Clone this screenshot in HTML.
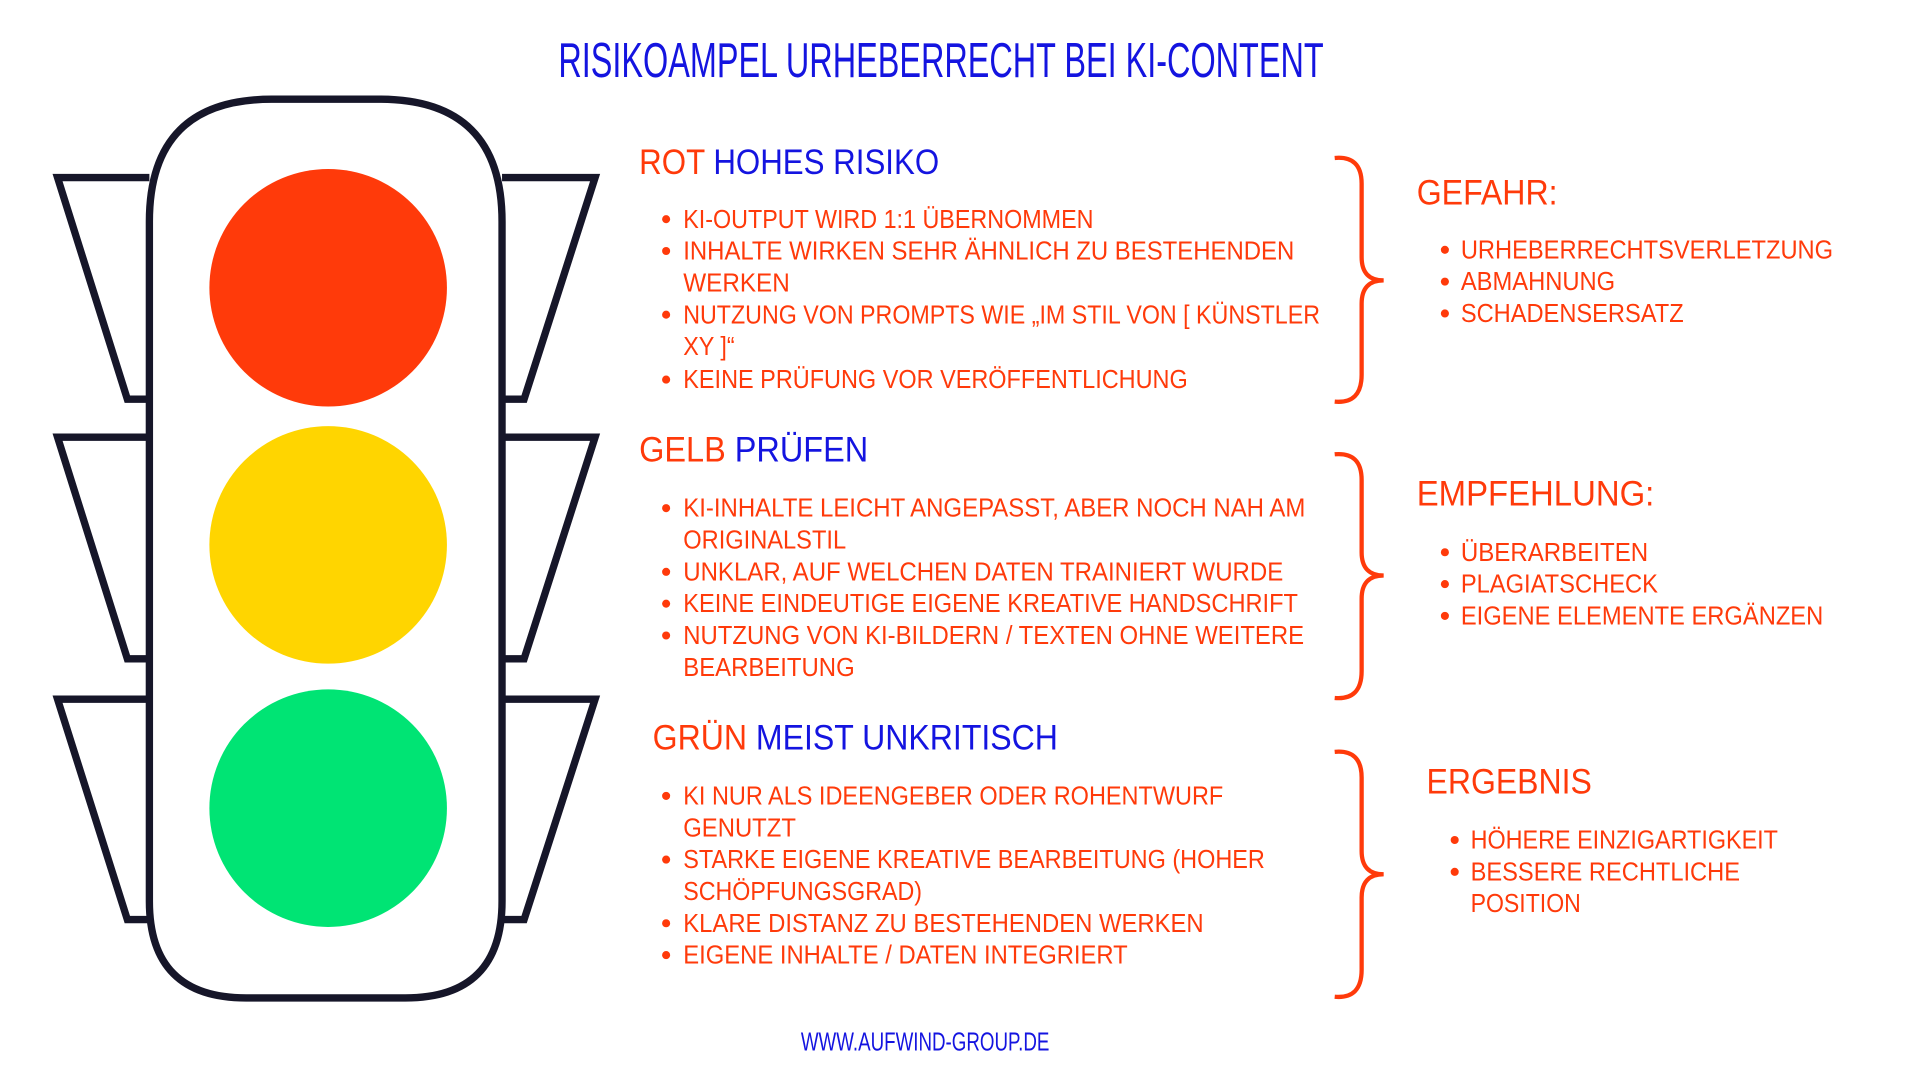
<!DOCTYPE html>
<html><head><meta charset="utf-8"><style>html,body{margin:0;padding:0;background:#fff;}svg{display:block}</style></head>
<body>
<svg width="1920" height="1080" viewBox="0 0 1568 882" preserveAspectRatio="none" xmlns="http://www.w3.org/2000/svg" font-family="Liberation Sans, sans-serif">
<rect width="1568" height="882" fill="#fff"/>
<g fill="#fff" stroke="#161629" stroke-width="6" stroke-linejoin="miter">
<polyline points="122,145 47,145 104,326 122,326"/>
<polyline points="122,357 47,357 104,538 122,538"/>
<polyline points="122,571 47,571 104,751 122,751"/>
<polyline points="410,145 486,145 428,326 410,326"/>
<polyline points="410,357 486,357 428,538 410,538"/>
<polyline points="410,571 486,571 428,751 410,751"/>
<path d="M222,81 L310,81 Q410,81 410,181 L410,736 Q410,815 331,815 L201,815 Q122,815 122,736 L122,181 Q122,81 222,81 Z"/>
</g>
<circle cx="268" cy="235" r="97" fill="#ff3a0a"/>
<circle cx="268" cy="445" r="97" fill="#ffd500"/>
<circle cx="268" cy="660" r="97" fill="#00e474"/>
<g fill="none" stroke="#ff3a0a" stroke-width="3.5">
<path d="M1090,129 Q1112,127 1112,150 L1112,210 Q1112,229 1130,229 Q1112,229 1112,248 L1112,306 Q1112,330 1090,328"/>
<path d="M1090,371 Q1112,369 1112,392 L1112,451 Q1112,470 1130,470 Q1112,470 1112,489 L1112,548 Q1112,572 1090,570"/>
<path d="M1090,614 Q1112,612 1112,635 L1112,695 Q1112,714 1130,714 Q1112,714 1112,733 L1112,792 Q1112,816 1090,814"/>
</g>
<text x="456" y="63" font-size="40" fill="#1414e0" textLength="625" lengthAdjust="spacingAndGlyphs">RISIKOAMPEL URHEBERRECHT BEI KI-CONTENT</text>
<text x="654" y="858" font-size="21" fill="#1414e0" textLength="203" lengthAdjust="spacingAndGlyphs">WWW.AUFWIND-GROUP.DE</text>
<g font-size="29">
<text x="522" y="142" textLength="245" lengthAdjust="spacingAndGlyphs"><tspan fill="#ff3a0a">ROT </tspan><tspan fill="#1414e0">HOHES RISIKO</tspan></text>
<text x="522" y="377" textLength="187" lengthAdjust="spacingAndGlyphs"><tspan fill="#ff3a0a">GELB </tspan><tspan fill="#1414e0">PRÜFEN</tspan></text>
<text x="533" y="612" textLength="331" lengthAdjust="spacingAndGlyphs"><tspan fill="#ff3a0a">GRÜN </tspan><tspan fill="#1414e0">MEIST UNKRITISCH</tspan></text>
<g fill="#ff3a0a">
<text x="1157" y="167" textLength="115" lengthAdjust="spacingAndGlyphs">GEFAHR:</text>
<text x="1157" y="413" textLength="194" lengthAdjust="spacingAndGlyphs">EMPFEHLUNG:</text>
<text x="1165" y="648" textLength="135" lengthAdjust="spacingAndGlyphs">ERGEBNIS</text>
</g>
</g>
<g font-size="21" fill="#ff3a0a">
<text x="558" y="186" textLength="335" lengthAdjust="spacingAndGlyphs">KI-OUTPUT WIRD 1:1 ÜBERNOMMEN</text>
<text x="558" y="212" textLength="499" lengthAdjust="spacingAndGlyphs">INHALTE WIRKEN SEHR ÄHNLICH ZU BESTEHENDEN</text>
<text x="558" y="238" textLength="87" lengthAdjust="spacingAndGlyphs">WERKEN</text>
<text x="558" y="264" textLength="520" lengthAdjust="spacingAndGlyphs">NUTZUNG VON PROMPTS WIE „IM STIL VON [ KÜNSTLER</text>
<text x="558" y="290" textLength="42" lengthAdjust="spacingAndGlyphs">XY ]“</text>
<text x="558" y="317" textLength="412" lengthAdjust="spacingAndGlyphs">KEINE PRÜFUNG VOR VERÖFFENTLICHUNG</text>
<text x="558" y="422" textLength="508" lengthAdjust="spacingAndGlyphs">KI-INHALTE LEICHT ANGEPASST, ABER NOCH NAH AM</text>
<text x="558" y="448" textLength="133" lengthAdjust="spacingAndGlyphs">ORIGINALSTIL</text>
<text x="558" y="474" textLength="490" lengthAdjust="spacingAndGlyphs">UNKLAR, AUF WELCHEN DATEN TRAINIERT WURDE</text>
<text x="558" y="500" textLength="502" lengthAdjust="spacingAndGlyphs">KEINE EINDEUTIGE EIGENE KREATIVE HANDSCHRIFT</text>
<text x="558" y="526" textLength="507" lengthAdjust="spacingAndGlyphs">NUTZUNG VON KI-BILDERN / TEXTEN OHNE WEITERE</text>
<text x="558" y="552" textLength="140" lengthAdjust="spacingAndGlyphs">BEARBEITUNG</text>
<text x="558" y="657" textLength="441" lengthAdjust="spacingAndGlyphs">KI NUR ALS IDEENGEBER ODER ROHENTWURF</text>
<text x="558" y="683" textLength="92" lengthAdjust="spacingAndGlyphs">GENUTZT</text>
<text x="558" y="709" textLength="475" lengthAdjust="spacingAndGlyphs">STARKE EIGENE KREATIVE BEARBEITUNG (HOHER</text>
<text x="558" y="735" textLength="195" lengthAdjust="spacingAndGlyphs">SCHÖPFUNGSGRAD)</text>
<text x="558" y="761" textLength="425" lengthAdjust="spacingAndGlyphs">KLARE DISTANZ ZU BESTEHENDEN WERKEN</text>
<text x="558" y="787" textLength="363" lengthAdjust="spacingAndGlyphs">EIGENE INHALTE / DATEN INTEGRIERT</text>
<text x="1193" y="211" textLength="304" lengthAdjust="spacingAndGlyphs">URHEBERRECHTSVERLETZUNG</text>
<text x="1193" y="237" textLength="126" lengthAdjust="spacingAndGlyphs">ABMAHNUNG</text>
<text x="1193" y="263" textLength="182" lengthAdjust="spacingAndGlyphs">SCHADENSERSATZ</text>
<text x="1193" y="458" textLength="153" lengthAdjust="spacingAndGlyphs">ÜBERARBEITEN</text>
<text x="1193" y="484" textLength="161" lengthAdjust="spacingAndGlyphs">PLAGIATSCHECK</text>
<text x="1193" y="510" textLength="296" lengthAdjust="spacingAndGlyphs">EIGENE ELEMENTE ERGÄNZEN</text>
<text x="1201" y="693" textLength="251" lengthAdjust="spacingAndGlyphs">HÖHERE EINZIGARTIGKEIT</text>
<text x="1201" y="719" textLength="220" lengthAdjust="spacingAndGlyphs">BESSERE RECHTLICHE</text>
<text x="1201" y="745" textLength="90" lengthAdjust="spacingAndGlyphs">POSITION</text>
</g>
<g fill="#ff3a0a">
<circle cx="544" cy="179" r="3.3"/><circle cx="544" cy="205" r="3.3"/><circle cx="544" cy="257" r="3.3"/><circle cx="544" cy="310" r="3.3"/>
<circle cx="544" cy="415" r="3.3"/><circle cx="544" cy="467" r="3.3"/><circle cx="544" cy="493" r="3.3"/><circle cx="544" cy="519" r="3.3"/>
<circle cx="544" cy="650" r="3.3"/><circle cx="544" cy="702" r="3.3"/><circle cx="544" cy="754" r="3.3"/><circle cx="544" cy="780" r="3.3"/>
<circle cx="1180" cy="204" r="3.3"/><circle cx="1180" cy="230" r="3.3"/><circle cx="1180" cy="256" r="3.3"/>
<circle cx="1180" cy="451" r="3.3"/><circle cx="1180" cy="477" r="3.3"/><circle cx="1180" cy="503" r="3.3"/>
<circle cx="1188" cy="686" r="3.3"/><circle cx="1188" cy="712" r="3.3"/>
</g>
</svg>
</body></html>
